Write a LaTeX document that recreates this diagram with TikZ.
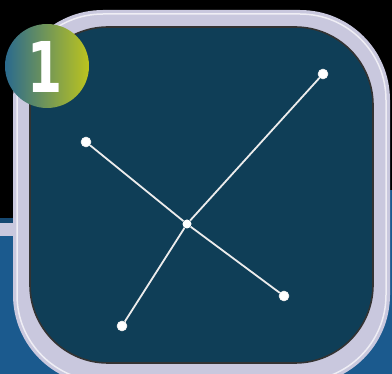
\documentclass[tikz,border=0pt]{standalone}
\usepackage{fontspec}
\newfontfamily\badgefont{DejaVu Sans}
\begin{document}
\begin{tikzpicture}[x=1pt,y=-1pt,
  dotnode/.style={circle,fill=white,draw=white!85!gray,line width=0.5pt,inner sep=0pt,minimum size=10pt},
  hubnode/.style={circle,fill=white,inner sep=0pt,minimum size=9pt},
  spoke/.style={draw=white!85!gray,line width=1.8pt}]
\definecolor{bgblue}{HTML}{1B5A8E}
\definecolor{framec}{HTML}{C9C8DE}
\definecolor{innerc}{HTML}{0F3E57}
\definecolor{badgeL}{HTML}{2A6A8E}
\definecolor{badgeR}{HTML}{BCC41E}
\useasboundingbox (0,0) rectangle (392,374);
% background
\fill[black] (0,0) rectangle (392,374);
\fill[bgblue] (0,232) rectangle (392,374);
\fill[bgblue!80!black] (0,218) rectangle (20,224);
\fill[framec] (0,223) rectangle (20,236);
\fill[bgblue] (386,190) rectangle (392,374);
% frame
\fill[framec,rounded corners=90pt] (13,10) rectangle (390,385);
\draw[white!70!framec,line width=1.5pt,rounded corners=86pt] (17,14) rectangle (386,381);
\filldraw[fill=innerc,draw=black!80,line width=1.6pt,rounded corners=78pt] (30,27) rectangle (373,363);
% badge
\node[circle,minimum size=84pt,inner sep=0pt,left color=badgeL,right color=badgeR] (badge) at (47,66) {};
\node[text=white,font=\badgefont\bfseries\fontsize{70}{70}\selectfont,xscale=0.72] (one) at (45,67) {1};
% points
\node[hubnode] (c) at (187,224) {};
\node[dotnode] (p1) at (86,142) {};
\node[dotnode] (p2) at (323,74) {};
\node[dotnode] (p3) at (284,296) {};
\node[dotnode] (p4) at (122,326) {};
\draw[spoke] (c) -- (p1);
\draw[spoke] (c) -- (p2);
\draw[spoke] (c) -- (p3);
\draw[spoke] (c) -- (p4);
\end{tikzpicture}
\end{document}
